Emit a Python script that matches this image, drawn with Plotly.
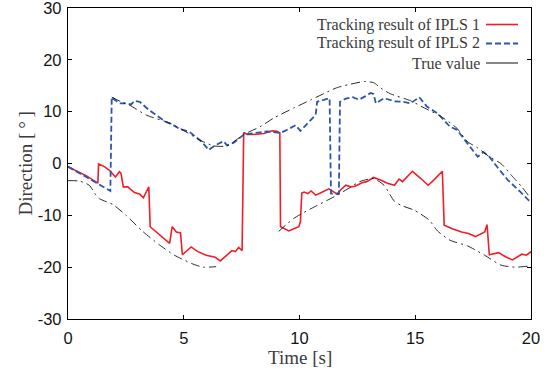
import plotly.graph_objects as go

# ---- data ----
t_ipls1 = [0, 0.4, 0.8, 1.29, 1.32, 1.57, 1.79, 2.05, 2.22, 2.29, 2.39, 2.58, 2.87, 3.09, 3.26, 3.38, 3.49,
           3.55, 3.81, 4.24, 4.39, 4.5, 4.68, 4.86, 4.94, 5.32, 5.61, 5.97, 6.36, 6.58, 6.8, 7.08, 7.23,
           7.37, 7.52, 7.59, 7.74, 8.02, 8.46, 8.82, 9.03, 9.15, 9.18, 9.4, 9.54, 9.75, 9.97, 10.04, 10.1,
           10.2, 10.36, 10.5, 10.7, 10.9, 11.27, 11.63, 11.77, 12.0, 12.2, 12.4, 12.7, 12.9, 13.2, 13.5,
           13.8, 14.1, 14.3, 14.45, 14.88, 15.24, 15.56, 15.8, 16.17, 16.25, 16.6, 17.0, 17.3, 17.6, 18.0,
           18.1, 18.2, 18.6, 18.9, 19.2, 19.6, 19.8, 20.0]
v_ipls1 = [-0.6, -1.5, -2.4, -3.8, -0.1, -0.6, -1.3, -2.6, -1.6, -1.9, -4.5, -4.5, -5.6, -5.9, -6.6, -5.5, -4.5,
           -12.2, -13.2, -14.8, -15.4, -12.2, -13.2, -13.4, -17.6, -16.1, -17.0, -17.7, -18.1, -18.8, -18.0, -16.8, -17.0,
           -16.2, -16.8, 6.0, 5.6, 5.6, 5.8, 6.3, 6.2, 5.9, -12.2, -12.6, -13.0, -12.6, -12.2, -11.2, -5.7,
           -5.5, -5.8, -5.3, -6.1, -5.7, -4.9, -5.9, -5.1, -4.2, -4.5, -4.4, -3.7, -3.5, -2.7, -3.2,
           -3.8, -4.2, -3.0, -3.5, -1.5, -2.9, -4.2, -3.2, -1.5, -11.9, -12.6, -13.2, -13.5, -14.1, -13.2,
           -11.8, -17.6, -17.2, -18.0, -18.6, -17.5, -17.7, -17.0]

t_ipls2 = [0, 0.4, 0.8, 1.3, 1.83, 1.89, 2.2, 2.5, 2.73, 2.87, 3.1, 3.5, 3.9, 4.24, 4.5, 4.82, 5.25, 5.5, 5.7,
           5.97, 6.07, 6.36, 6.72, 6.87, 7.16, 7.6, 8.0, 8.3, 8.6, 9.18, 9.47, 9.83, 10.04, 10.3, 10.5, 10.7,
           10.76, 11.0, 11.3, 11.36, 11.7, 11.75, 12.0, 12.3, 12.57, 12.85, 13.07, 13.2, 13.3, 13.65, 14.1,
           14.5, 14.8, 15.17, 15.5, 15.96, 16.5, 16.8, 17.26, 17.7, 17.95, 18.2, 18.6, 19.0, 19.5, 19.9, 20.0]
v_ipls2 = [-0.6, -1.6, -2.6, -3.9, -5.3, 12.8, 11.6, 11.6, 11.4, 12.1, 11.9, 10.3, 9.0, 8.0, 7.5, 6.7, 6.1, 5.3, 4.5,
           3.2, 2.6, 3.5, 4.3, 3.5, 4.0, 5.6, 5.9, 6.0, 6.2, 5.9, 6.5, 7.4, 6.3, 7.5, 8.4, 9.4,
           11.9, 12.2, 12.6, -5.8, -5.8, 11.9, 12.5, 12.8, 12.3, 13.0, 13.6, 13.4, 11.6, 12.6, 12.0,
           11.9, 11.6, 12.8, 11.0, 9.7, 7.1, 6.5, 3.9, 1.3, 2.2, 1.3, -1.0, -3.2, -5.3, -7.1, -7.3]

# true value: two lower segments and one upper segment (None = gap)
t_true = [0, 0.5, 0.92, 1.21, 1.36, 1.93, 2.51, 3.2, 3.95, 4.6, 5.4, 5.85, 6.4, None,
          9.1, 9.75, 10.5, 11.5, 12.2, 12.6, 13.2, 13.65, 14.1, 14.4, 14.95, 15.6, 15.96, 16.5, 17.26,
          18.0, 18.7, 19.3, 19.9, 20.0, None,
          1.89, 2.3, 2.68, 3.4, 4.4, 5.1, 5.7, 6.3, 6.87, 7.6, 8.3, 8.9, 9.75, 10.5, 11.2, 11.6, 12.1,
          12.8, 13.2, 13.5, 13.9, 14.8, 15.4, 16.1, 16.8, 17.26, 17.7, 18.2, 18.7, 19.2, 19.6, 20.0]
v_true = [-3.3, -3.4, -4.2, -6.1, -6.8, -7.9, -10.0, -13.0, -15.7, -17.7, -19.4, -20.0, -19.9, None,
          -13.1, -10.6, -8.7, -6.4, -4.6, -3.5, -2.9, -4.2, -7.3, -8.1, -9.0, -10.9, -13.0, -14.8, -15.9,
          -17.7, -19.6, -20.0, -19.8, -19.8, None,
          12.8, 11.9, 11.2, 9.3, 7.8, 6.1, 4.5, 3.4, 3.4, 5.6, 7.1, 8.8, 10.7, 12.3, 13.8, 14.6, 15.2,
          15.8, 15.6, 14.6, 13.5, 12.1, 10.7, 9.1, 6.8, 4.2, 3.0, 1.3, 0.0, -2.5, -4.5, -6.8]

x_ticks = [0, 5, 10, 15, 20]
y_ticks = [-30, -20, -10, 0, 10, 20, 30]
legend_names = ["Tracking result of IPLS 1", "Tracking result of IPLS 2", "True value"]

RED = "rgb(240,30,40)"
BLUE = "rgb(45,85,170)"
BLACK = "rgb(20,20,20)"
TXT = "rgb(60,60,60)"

fig = go.Figure()
fig.add_trace(go.Scatter(x=t_ipls1, y=v_ipls1, mode="lines", name=legend_names[0],
                         line=dict(color=RED, width=1.6)))
fig.add_trace(go.Scatter(x=t_ipls2, y=v_ipls2, mode="lines", name=legend_names[1],
                         line=dict(color=BLUE, width=1.8, dash="6px,3px")))
fig.add_trace(go.Scatter(x=t_true, y=v_true, mode="lines", name=legend_names[2], connectgaps=False,
                         line=dict(color=BLACK, width=0.9, dash="9px,4px,2px,4px", shape="spline", smoothing=0.6)))

# custom legend (text left of the sample line, as in the reference)
plot_w, plot_h, top = 463, 311, 8
row_py = [24.5, 43.5, 63.0]
styles = [dict(color=RED, width=1.6), dict(color=BLUE, width=1.8, dash="6px,3px"),
          dict(color="rgb(70,70,70)", width=1.3)]
for name, py, st in zip(legend_names, row_py, styles):
    yp = 1 - (py - top) / plot_h
    fig.add_annotation(x=(482 - 68) / plot_w, y=yp, xref="paper", yref="paper", text=name,
                       showarrow=False, xanchor="right", yanchor="middle",
                       font=dict(family="Liberation Serif", size=16, color=TXT))
    fig.add_shape(type="line", xref="paper", yref="paper", x0=(486 - 68) / plot_w, x1=(518 - 68) / plot_w,
                  y0=yp, y1=yp, line=st)

fig.add_annotation(x=0.5, y=-0.125, xref="paper", yref="paper", text="Time [s]", showarrow=False,
                   xanchor="center", yanchor="middle", font=dict(family="Liberation Serif", size=19, color=TXT))
fig.add_annotation(x=(25 - 68) / plot_w, y=0.5, xref="paper", yref="paper", text="Direction [\u2009°\u2009]",
                   showarrow=False, textangle=-90, xanchor="center", yanchor="middle",
                   font=dict(family="Liberation Serif", size=19, color=TXT))

axis_common = dict(showgrid=False, zeroline=False, showline=True, linecolor="black", linewidth=1.3,
                   mirror="ticks", ticks="inside", ticklen=4, tickcolor="black", tickwidth=1,
                   automargin=False, ticklabeloverflow="allow",
                   tickfont=dict(family="Liberation Sans", size=16.5, color="rgb(20,20,20)"))
fig.update_xaxes(range=[0, 20], tickvals=x_ticks, ticktext=[str(v) for v in x_ticks],
                 ticklabelstandoff=4, **axis_common)
fig.update_yaxes(range=[-30, 30], tickvals=y_ticks, ticktext=[str(v) for v in y_ticks],
                 ticklabelstandoff=2, **axis_common)

fig.update_layout(width=553, height=373, margin=dict(l=68, r=22, t=8, b=54, autoexpand=False),
                  paper_bgcolor="white", plot_bgcolor="white", showlegend=False)

fig.write_html("out.html", config={"displayModeBar": False},
               post_script="document.body.style.margin='0px';document.body.style.overflow='hidden';")
